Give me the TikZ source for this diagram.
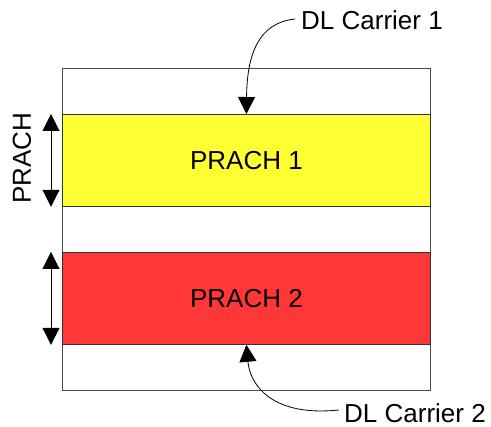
\documentclass[tikz,border=0pt]{standalone}
\usepackage{fontspec}
\setmainfont{Liberation Sans}
\usetikzlibrary{arrows.meta}
\definecolor{bandyellow}{RGB}{255,255,51}
\definecolor{bandred}{RGB}{255,55,55}
\tikzset{
  lbl/.style={font=\fontsize{26}{31}\selectfont, inner sep=0pt},
  band/.style={draw=black!80, line width=0.8pt, minimum width=368pt, minimum height=92pt, inner sep=0pt, anchor=north west},
  bigtip/.style={-{Triangle[width=17pt,length=17pt]}, line width=0.8pt},
  dimarrow/.style={{Triangle[width=17pt,length=17pt]}-{Triangle[width=17pt,length=17pt]}, line width=1pt},
}
\begin{document}
\begin{tikzpicture}[x=1pt,y=-1pt]
  \useasboundingbox (0,0) rectangle (491,427);
  % carrier frame
  \draw[black!70, line width=0.9pt] (62,68) rectangle (430,390);
  % PRACH bands
  \node[band, fill=bandyellow, lbl] (p1) at (62,114) {PRACH 1};
  \node[band, fill=bandred, lbl] (p2) at (62,252) {PRACH 2};
  % bandwidth markers
  \coordinate (d1t) at ([xshift=-11pt]p1.north west);
  \coordinate (d1b) at ([xshift=-11pt]p1.south west);
  \coordinate (d2t) at ([xshift=-11pt]p2.north west);
  \coordinate (d2b) at ([xshift=-11pt]p2.south west);
  \draw[dimarrow] (d1t) -- (d1b);
  \draw[dimarrow] (d2t) -- (d2b);
  \node[lbl, rotate=90] (bw) at (22,158) {PRACH};
  % carrier labels
  \node[lbl, anchor=west] (c1) at (301,20) {DL Carrier 1};
  \node[lbl, anchor=west] (c2) at (344,413) {DL Carrier 2};
  \draw[bigtip] ([xshift=-6pt,yshift=1pt]c1.west) .. controls (258,23) and (247,55) .. (p1.north);
  \draw[bigtip] ([xshift=-5pt,yshift=3pt]c2.west) .. controls (272,417) and (250,385) .. (p2.south);
\end{tikzpicture}
\end{document}
